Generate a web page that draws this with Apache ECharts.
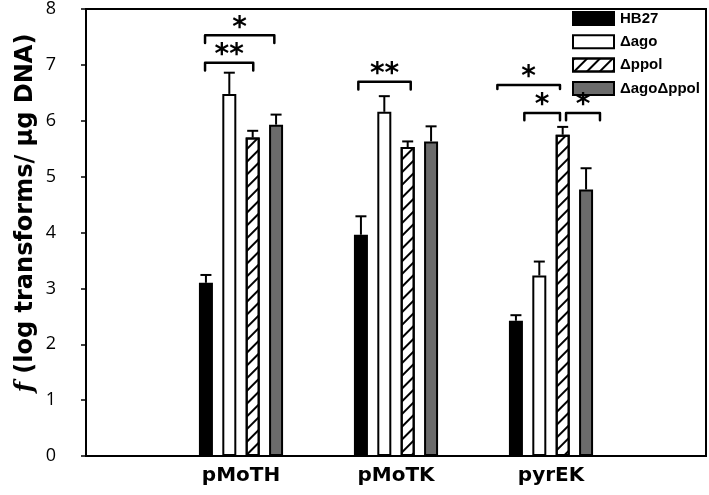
<!DOCTYPE html>
<html>
<head>
<meta charset="utf-8">
<script src="https://cdn.jsdelivr.net/npm/echarts@6/dist/echarts.min.js"></script>
<style>
  html, body { margin: 0; padding: 0; background: #fff; }
  #chart { width: 709px; height: 495px; }
</style>
</head>
<body>
<div id="chart"></div>
<script>
// ---- data ----
const categories = ['', 'pMoTH', 'pMoTK', 'pyrEK', ''];
const seriesNames = ['HB27', 'Δago', 'Δppol', 'ΔagoΔppol'];
const hb27 = [null, 3.10, 3.96, 2.42, null];
const ago = [null, 6.48, 6.16, 3.23, null];
const ppol = [null, 5.70, 5.53, 5.75, null];
const agoPpol = [null, 5.93, 5.63, 4.77, null];
const hb27Err = [null, 0.14, 0.33, 0.10, null];
const agoErr = [null, 0.38, 0.28, 0.25, null];
const ppolErr = [null, 0.12, 0.10, 0.14, null];
const agoPpolErr = [null, 0.18, 0.27, 0.38, null];
const yTicks = [0, 1, 2, 3, 4, 5, 6, 7, 8];
// significance brackets (x in category units, y in data units)
const bracketStart = [0.768, 0.768, 1.757, 2.654, 2.828, 3.097];
const bracketEnd   = [1.215, 1.079, 2.095, 3.058, 3.058, 3.316];
const bracketTop   = [7.53, 7.04, 6.70, 6.64, 6.14, 6.14];
const bracketLeg   = [7.39, 6.90, 6.56, 6.57, 6.01, 6.01];
const bracketLabel = ['*', '**', '**', '*', '*', '*'];

// ---- styles ----
const BAR_W = 14;
const BAR_GAP = 0.67;
const PITCH = BAR_W * (1 + BAR_GAP);
const values = [hb27, ago, ppol, agoPpol];
const errs = [hb27Err, agoErr, ppolErr, agoPpolErr];
const fills = ['#000000', '#ffffff', '#ffffff', '#6b6b6b'];

const barSeries = values.map((vals, i) => {
  const s = {
    name: seriesNames[i],
    type: 'bar',
    xAxisIndex: 0,
    yAxisIndex: 0,
    data: vals,
    barWidth: BAR_W,
    barGap: (BAR_GAP * 100) + '%',
    itemStyle: { color: fills[i], borderColor: '#000', borderWidth: 2 },
    emphasis: { disabled: true },
    z: 2
  };
  if (i === 2) {
    s.itemStyle.decal = {
      symbol: 'rect',
      symbolSize: 1,
      dashArrayX: [[1, 0]],
      dashArrayY: [2, 7],
      rotation: -Math.PI / 4,
      color: '#000'
    };
  }
  return s;
});

const errData = [];
errs.forEach((arr, slot) => {
  arr.forEach((e, ci) => {
    if (e != null) errData.push([ci, values[slot][ci], values[slot][ci] + e, slot]);
  });
});

const errSeries = {
  type: 'custom',
  xAxisIndex: 0,
  yAxisIndex: 0,
  data: errData,
  z: 3,
  silent: true,
  renderItem: function (params, api) {
    const base = api.coord([api.value(0), api.value(1)]);
    const top = api.coord([api.value(0), api.value(2)]);
    const off = (api.value(3) - 1.5) * PITCH;
    const x = base[0] + off;
    const half = 5.5;
    return {
      type: 'group',
      children: [
        { type: 'line', shape: { x1: x, y1: base[1], x2: x, y2: top[1] }, style: { stroke: '#000', lineWidth: 2 } },
        { type: 'line', shape: { x1: x - half, y1: top[1], x2: x + half, y2: top[1] }, style: { stroke: '#000', lineWidth: 2 } }
      ]
    };
  }
};

const bracketData = bracketStart.map((s, i) => [s, bracketEnd[i], bracketTop[i], bracketLeg[i], i]);
const bracketSeries = {
  type: 'custom',
  xAxisIndex: 1,
  yAxisIndex: 0,
  data: bracketData,
  encode: { x: [0, 1], y: [2, 3] },
  z: 4,
  silent: true,
  renderItem: function (params, api) {
    const p1 = api.coord([api.value(0), api.value(2)]);
    const p2 = api.coord([api.value(1), api.value(3)]);
    const xL = p1[0], xR = p2[0], yT = p1[1], yB = p2[1];
    const label = bracketLabel[api.value(4)];
    return {
      type: 'group',
      children: [
        { type: 'polyline', shape: { points: [[xL, yB], [xL, yT], [xR, yT], [xR, yB]] },
          style: { stroke: '#000', lineWidth: 2.5, fill: null, lineJoin: 'round', lineCap: 'round' } },
        { type: 'text', x: (xL + xR) / 2, y: yT - 7,
          style: { text: label, fill: '#000', font: 'bold 28px "DejaVu Sans"', align: 'center', verticalAlign: 'middle' } }
      ]
    };
  }
};

const chart = echarts.init(document.getElementById('chart'), null, { renderer: 'canvas' });
chart.setOption({
  animation: false,
  backgroundColor: '#ffffff',
  grid: { left: 86, right: 3, top: 7, bottom: 39, show: true, borderColor: '#000', borderWidth: 2, backgroundColor: 'transparent' },
  legend: {
    data: seriesNames,
    orient: 'vertical',
    left: 572,
    top: 11,
    padding: 0,
    icon: 'rect',
    itemWidth: 41,
    itemHeight: 13,
    itemGap: 8.3,
    selectedMode: false,
    textStyle: { fontFamily: 'Liberation Sans', fontWeight: 'bold', fontSize: 15, color: '#000', padding: [0, 0, 0, 1] }
  },
  xAxis: [
    {
      type: 'category',
      data: categories,
      boundaryGap: false,
      axisLine: { lineStyle: { color: '#000', width: 2 } },
      axisTick: { show: false },
      axisLabel: { color: '#000', fontFamily: 'DejaVu Sans', fontWeight: 'bold', fontSize: 20, margin: 10, interval: 0 },
      splitLine: { show: false }
    },
    { type: 'value', min: 0, max: 4, show: false, splitLine: { show: false } }
  ],
  yAxis: {
    type: 'value',
    min: yTicks[0],
    max: yTicks[yTicks.length - 1],
    interval: 1,
    axisLine: { show: true, lineStyle: { color: '#000', width: 2 } },
    axisTick: { show: true, length: 5, lineStyle: { color: '#000', width: 1.5 } },
    axisLabel: { color: '#000', fontFamily: 'Open Sans', fontSize: 18, margin: 30 },
    splitLine: { show: false }
  },
  graphic: [{
    type: 'text',
    x: 26,
    y: 213,
    rotation: Math.PI / 2,
    style: {
      text: '{i|f} (log transforms/ μg DNA)',
      font: 'bold 24px "DejaVu Sans"',
      fill: '#000',
      align: 'center',
      verticalAlign: 'middle',
      rich: { i: { fontStyle: 'italic', fontWeight: 'bold', fontSize: 24, fontFamily: 'DejaVu Serif', fill: '#000' } }
    }
  }],
  series: [...barSeries, errSeries, bracketSeries]
});
</script>
</body>
</html>
